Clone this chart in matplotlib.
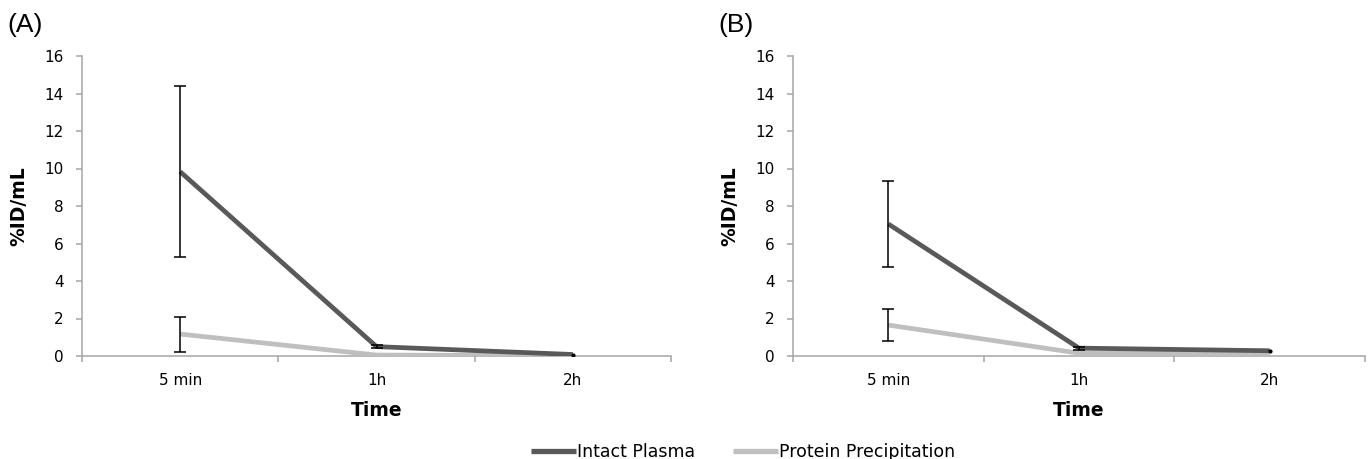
import matplotlib
matplotlib.use("Agg")
import matplotlib.pyplot as plt
import numpy as np

# ---- data ----
categories = ["5 min", "1h", "2h"]
series_names = ["Intact Plasma", "Protein Precipitation"]

a_intact = [9.83, 0.50, 0.08]
a_intact_err = [4.55, 0.08, 0.0]
a_protein = [1.17, 0.05, 0.02]
a_protein_err = [0.93, 0.0, 0.0]

b_intact = [7.04, 0.42, 0.28]
b_intact_err = [2.3, 0.08, 0.0]
b_protein = [1.65, 0.15, 0.15]
b_protein_err = [0.87, 0.0, 0.0]

panel_labels = ["(A)", "(B)"]
y_ticks = [0, 2, 4, 6, 8, 10, 12, 14, 16]

# ---- style ----
dark = "#595959"
light = "#BFBFBF"
spine_col = "#A6A6A6"

W, H = 1372, 459
fig = plt.figure(figsize=(W / 100, H / 100), dpi=100)

def frac_x(px):
    return px / W

def frac_y(py):
    return 1 - py / H

ax_specs = [
    (82, 671),
    (793, 1365),
]
y0_px, y16_px = 356, 56

axes = []
for (l, r) in ax_specs:
    ax = fig.add_axes([frac_x(l), frac_y(y0_px), frac_x(r) - frac_x(l),
                       frac_y(y16_px) - frac_y(y0_px)])
    axes.append(ax)

data = [
    (a_intact, a_intact_err, a_protein, a_protein_err),
    (b_intact, b_intact_err, b_protein, b_protein_err),
]

handles = []
for i, (ax, (yi, ei, yp, ep)) in enumerate(zip(axes, data)):
    x = np.arange(len(categories)) + 0.5
    lp, = ax.plot(x, yp, color=light, lw=3.4, solid_capstyle="butt", zorder=3)
    ep_arr = np.array(ep)
    m = ep_arr > 0
    ax.errorbar(x[m], np.array(yp)[m], yerr=ep_arr[m], fmt="none",
                ecolor="black", elinewidth=1.1, capsize=4, capthick=1.1,
                zorder=4)
    li, = ax.plot(x, yi, color=dark, lw=3.4, solid_capstyle="butt", zorder=5)
    ei_arr = np.array(ei)
    m = ei_arr > 0
    ax.errorbar(x[m], np.array(yi)[m], yerr=ei_arr[m], fmt="none",
                ecolor="black", elinewidth=1.1, capsize=4, capthick=1.1,
                zorder=6)
    # small end dot at last point (as in reference)
    ax.plot(x[-1:], np.array(yi)[-1:], "o", color="black", ms=2, zorder=7)
    if i == 0:
        handles = [li, lp]

    ax.set_xlim(0, len(categories))
    ax.set_ylim(0, 16)
    ax.set_yticks(y_ticks)
    ax.set_xticks(x)
    ax.set_xticklabels(categories)
    ax.set_xticks(np.arange(len(categories) + 1), minor=True)
    ax.tick_params(axis="x", which="major", length=0, pad=12, labelsize=11)
    ax.tick_params(axis="x", which="minor", length=4, width=1.1,
                   color=spine_col, direction="out")
    ax.tick_params(axis="y", length=4, width=1.1, color=spine_col,
                   direction="out", pad=9, labelsize=11)
    for s in ["top", "right"]:
        ax.spines[s].set_visible(False)
    for s in ["left", "bottom"]:
        ax.spines[s].set_color(spine_col)
        ax.spines[s].set_linewidth(1.1)

    ax.set_ylabel("%ID/mL", fontsize=13.5, fontweight="bold")
    width_px = ax_specs[i][1] - ax_specs[i][0]
    ax.yaxis.set_label_coords(-(ax_specs[i][0] - ax_specs[0][0] + 82 - 19) / width_px
                              if i == 0 else -(82 - 19) / width_px, 0.5)
    ax.yaxis.label.set_va("center")
    ax.set_xlabel("Time", fontsize=13.5, fontweight="bold")
    ax.xaxis.set_label_coords(0.5, -(411 - y0_px) / (y0_px - y16_px))
    ax.xaxis.label.set_va("center")

fig.text(frac_x(7), frac_y(13), panel_labels[0], fontsize=19,
         family="Liberation Sans", ha="left", va="top")
fig.text(frac_x(718), frac_y(13), panel_labels[1], fontsize=19,
         family="Liberation Sans", ha="left", va="top")

leg = fig.legend(handles, series_names, loc="center",
                 bbox_to_anchor=(frac_x(743), frac_y(452)), ncol=2,
                 frameon=False, fontsize=12.5, handlelength=2.6,
                 handletextpad=0.05, columnspacing=2.2)
for h in leg.get_lines():
    h.set_linewidth(3.8)

fig.savefig("out.png", dpi=100)
